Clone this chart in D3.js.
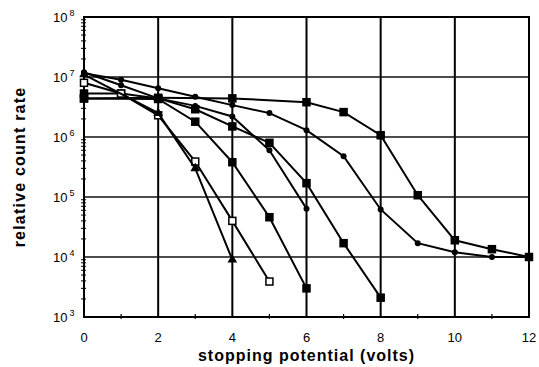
<!DOCTYPE html>
<html>
<head>
<meta charset="utf-8">
<script src="https://cdn.jsdelivr.net/npm/d3@7"></script>
<style>
  body { margin: 0; background: #fff; }
  text { font-family: "Liberation Sans", Arial, sans-serif; fill: #000; }
</style>
</head>
<body>
<div id="chart"></div>
<script>
// chart size
const width = 539;
const height = 367;
const margin = { top: 17, right: 10, bottom: 50, left: 84 };

// tick values
const xTicks = [0, 2, 4, 6, 8, 10, 12];
const yTickExp = [3, 4, 5, 6, 7, 8];

// count rates of each run
const runA = { x: [0, 2, 4, 6, 7, 8, 9, 10, 11, 12],
  y: [4.4e6, 4.5e6, 4.4e6, 3.8e6, 2.6e6, 1.07e6, 1.07e5, 1.9e4, 1.35e4, 1.0e4], mark: "square" };
const runB = { x: [0, 1, 2, 3, 4, 5, 6, 7, 8, 9, 10, 11, 12],
  y: [1.15e7, 9e6, 6.5e6, 4.7e6, 3.4e6, 2.5e6, 1.3e6, 4.8e5, 6.2e4, 1.7e4, 1.2e4, 1.0e4, 1.0e4], mark: "dot" };
const runC = { x: [0, 1, 2, 3, 4, 5, 6, 7, 8],
  y: [5.3e6, 5.3e6, 4.4e6, 2.9e6, 1.5e6, 8e5, 1.7e5, 1.7e4, 2.1e3], mark: "square" };
const runD = { x: [0, 2, 3, 4, 5, 6],
  y: [4.4e6, 4.3e6, 1.8e6, 3.8e5, 4.6e4, 3e3], mark: "square" };
const runE = { x: [0, 1, 2, 3, 4, 5],
  y: [8e6, 5.3e6, 2.3e6, 3.9e5, 4e4, 3.9e3], mark: "open" };
const runF = { x: [0, 2, 3, 4],
  y: [1.1e7, 2.5e6, 3e5, 9e3], mark: "triangle" };
const runG = { x: [0, 1, 2, 3, 4, 5, 6],
  y: [1.2e7, 7.3e6, 4.4e6, 3.3e6, 2.2e6, 6e5, 6.4e4], mark: "dot" };

const runs = [runA, runB, runC, runD, runE, runF, runG];

const svg = d3.select("#chart")
  .append("svg")
  .attr("width", width)
  .attr("height", height);

const x = d3.scaleLinear().domain([0, 12]).range([margin.left, width - margin.right]);
const y = d3.scaleLog().domain([1e3, 1e8]).range([height - margin.bottom, margin.top]);

// grid
svg.append("g")
  .selectAll("line")
  .data(xTicks)
  .join("line")
  .attr("x1", d => x(d)).attr("x2", d => x(d))
  .attr("y1", y(1e3)).attr("y2", y(1e8))
  .attr("stroke", "#000").attr("stroke-width", 2);

svg.append("g")
  .selectAll("line")
  .data(yTickExp)
  .join("line")
  .attr("x1", x(0)).attr("x2", x(12))
  .attr("y1", d => y(Math.pow(10, d))).attr("y2", d => y(Math.pow(10, d)))
  .attr("stroke", "#111").attr("stroke-width", 1.6);

// minor ticks on the log axis
const minor = [];
yTickExp.slice(0, -1).forEach(e => {
  for (let m = 2; m <= 9; m++) minor.push(m * Math.pow(10, e));
});
svg.append("g")
  .selectAll("line")
  .data(minor)
  .join("line")
  .attr("x1", x(0) - 3).attr("x2", x(0) + 2)
  .attr("y1", d => y(d)).attr("y2", d => y(d))
  .attr("stroke", "#000").attr("stroke-width", 1);

// minor ticks on the x axis
svg.append("g")
  .selectAll("line")
  .data([1, 3, 5, 7, 9, 11])
  .join("line")
  .attr("x1", d => x(d)).attr("x2", d => x(d))
  .attr("y1", y(1e3) - 3).attr("y2", y(1e3) + 2)
  .attr("stroke", "#000").attr("stroke-width", 1.2);

// frame
svg.append("rect")
  .attr("x", x(0)).attr("y", y(1e8))
  .attr("width", x(12) - x(0)).attr("height", y(1e3) - y(1e8))
  .attr("fill", "none").attr("stroke", "#000").attr("stroke-width", 2);

// tick labels
svg.append("g")
  .selectAll("text")
  .data(xTicks)
  .join("text")
  .attr("x", d => x(d))
  .attr("y", y(1e3) + 25)
  .attr("text-anchor", "middle")
  .style("font-size", "13px")
  .text(d => d);

const yl = svg.append("g")
  .selectAll("text")
  .data(yTickExp)
  .join("text")
  .attr("x", x(0) - 31)
  .attr("y", d => y(Math.pow(10, d)) + 5)
  .style("font-size", "13px");
yl.append("tspan").text("10");
yl.append("tspan").attr("dy", -6).attr("dx", 2).style("font-size", "9px").text(d => d);

// axis titles
svg.append("text")
  .attr("x", (x(0) + x(12)) / 2)
  .attr("y", height - 6)
  .attr("text-anchor", "middle")
  .style("font-size", "16px").style("font-weight", "bold")
  .style("letter-spacing", "1px")
  .text("stopping potential (volts)");

svg.append("text")
  .attr("transform", `translate(25, ${(y(1e3) + y(1e8)) / 2}) rotate(-90)`)
  .attr("text-anchor", "middle")
  .style("font-size", "16px").style("font-weight", "bold")
  .style("letter-spacing", "1.2px")
  .text("relative count rate");

// lines
const line = d3.line().x(d => x(d[0])).y(d => y(d[1]));
runs.forEach(r => {
  const pts = r.x.map((v, i) => [v, r.y[i]]);
  svg.append("path")
    .datum(pts)
    .attr("d", line)
    .attr("fill", "none")
    .attr("stroke", "#000")
    .attr("stroke-width", 2);

  const g = svg.append("g");
  if (r.mark === "square" || r.mark === "open") {
    g.selectAll("rect").data(pts).join("rect")
      .attr("x", d => x(d[0]) - 3.5).attr("y", d => y(d[1]) - 3.5)
      .attr("width", 7).attr("height", 7)
      .attr("fill", r.mark === "open" ? "#fff" : "#000")
      .attr("stroke", "#000").attr("stroke-width", 1.5);
  } else if (r.mark === "dot") {
    g.selectAll("circle").data(pts).join("circle")
      .attr("cx", d => x(d[0])).attr("cy", d => y(d[1]))
      .attr("r", 3).attr("fill", "#000");
  } else {
    g.selectAll("path").data(pts).join("path")
      .attr("d", d3.symbol(d3.symbolTriangle, 40))
      .attr("transform", d => `translate(${x(d[0])},${y(d[1])})`)
      .attr("fill", "#000");
  }
});
</script>
</body>
</html>
